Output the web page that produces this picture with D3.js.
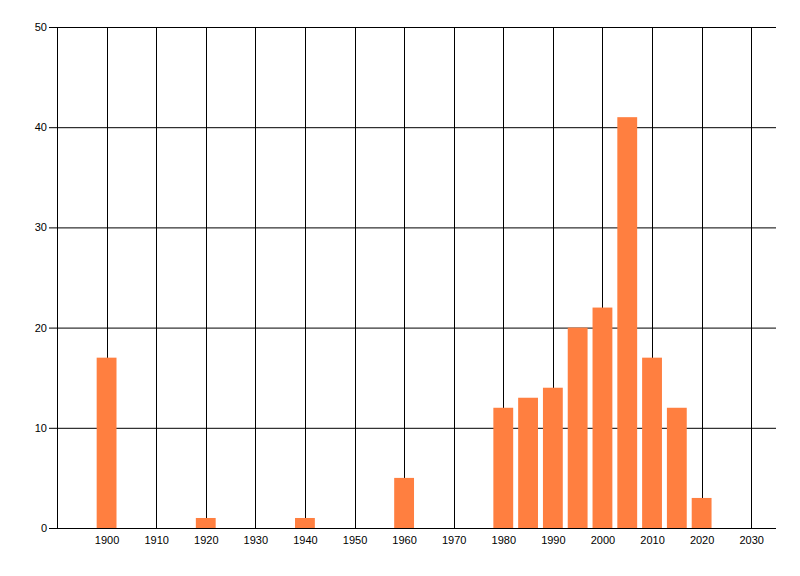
<!DOCTYPE html>
<html>
<head>
<meta charset="utf-8">
<script src="https://cdn.jsdelivr.net/npm/d3@7"></script>
<style>
  body { margin: 0; background: #fff; }
</style>
</head>
<body>
<div id="chart"></div>
<script>
// bar years and counts
const years = [1900, 1920, 1940, 1960, 1980, 1985, 1990, 1995, 2000, 2005, 2010, 2015, 2020];
const counts = [17, 1, 1, 5, 12, 13, 14, 20, 22, 41, 17, 12, 3];
const xTicks = [1900, 1910, 1920, 1930, 1940, 1950, 1960, 1970, 1980, 1990, 2000, 2010, 2020, 2030];
const yTicks = [0, 10, 20, 30, 40, 50];

const width = 800, height = 576;
const margin = { top: 27, right: 24, bottom: 48, left: 57 };
const plotW = width - margin.left - margin.right;
const plotH = height - margin.top - margin.bottom;

const svg = d3.select("#chart").append("svg")
  .attr("width", width)
  .attr("height", height);

const g = svg.append("g")
  .attr("transform", "translate(" + margin.left + "," + margin.top + ")");

const x = d3.scaleLinear().domain([1890, 2035]).range([0, plotW]);
const y = d3.scaleLinear().domain([0, 50]).range([plotH, 0]);
const barYears = 4; // each bar spans about 4 years

// vertical grid
g.selectAll(".vgrid")
  .data(xTicks)
  .enter()
  .append("line")
  .attr("x1", d => Math.round(x(d)) + 0.5)
  .attr("x2", d => Math.round(x(d)) + 0.5)
  .attr("y1", 0)
  .attr("y2", plotH)
  .attr("stroke", "#000");

// horizontal grid + axis ticks
const yAxis = d3.axisLeft(y).tickValues(yTicks).tickSize(-plotW).tickSizeOuter(0);
g.append("g").attr("class", "y-axis").call(yAxis)
  .call(s => s.select(".domain").remove())
  .call(s => s.selectAll(".tick line").attr("stroke", "#000").attr("x1", -8))
  .call(s => s.selectAll(".tick text").attr("x", -10));

// bars
g.selectAll(".bar")
  .data(years.map((yr, i) => ({ yr, v: counts[i] })))
  .enter()
  .append("rect")
  .attr("class", "bar")
  .attr("x", d => x(d.yr - barYears / 2))
  .attr("width", x(barYears) - x(0))
  .attr("y", d => y(d.v))
  .attr("height", d => plotH - y(d.v))
  .attr("fill", "#ff7f40");

// x axis
const xAxis = d3.axisBottom(x).tickValues(xTicks).tickFormat(d3.format("d")).tickSize(0).tickPadding(8);
g.append("g").attr("class", "x-axis")
  .attr("transform", "translate(0," + plotH + ")")
  .call(xAxis)
  .call(s => s.select(".domain").remove());

// left and bottom borders
g.append("line").attr("x1", 0.5).attr("x2", 0.5).attr("y1", 0).attr("y2", plotH).attr("stroke", "#000");
g.append("line").attr("x1", 0).attr("x2", plotW).attr("y1", plotH + 0.5).attr("y2", plotH + 0.5).attr("stroke", "#000");

svg.selectAll("text").attr("font-family", "'Liberation Sans', Arial, sans-serif").attr("font-size", 11).attr("fill", "#000");
</script>
</body>
</html>
